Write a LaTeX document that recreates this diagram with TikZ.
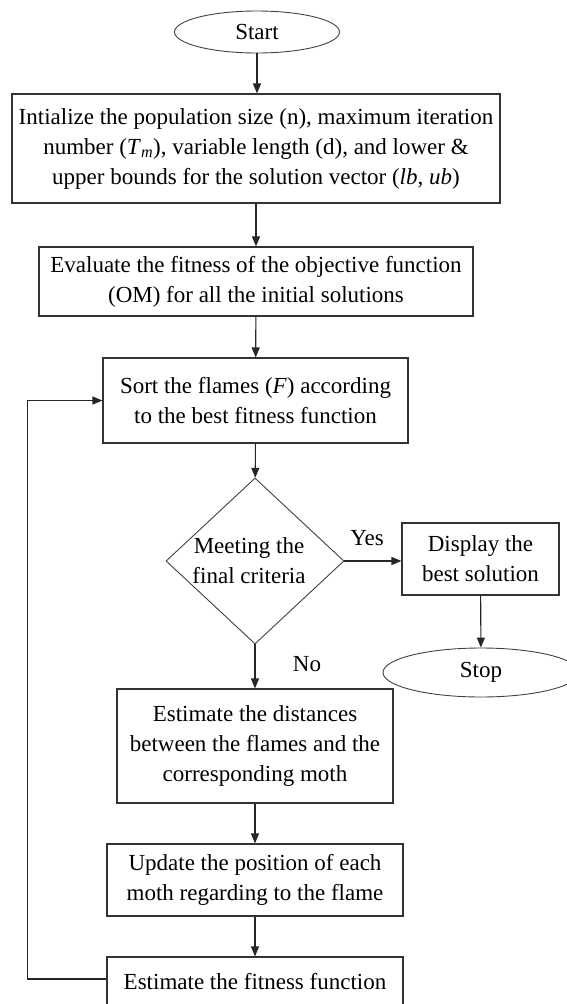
\documentclass[tikz,border=0pt]{standalone}
\usepackage{fontspec}
\setmainfont{Liberation Serif}
\usetikzlibrary{shapes.geometric,arrows.meta}
\begin{document}
\begin{tikzpicture}[x=1pt,y=-1pt,
  txt/.style={font=\fontsize{23}{30}\selectfont},
  box/.style={txt, draw=black!80, line width=1.1pt, align=center, inner sep=0pt},
  term/.style={txt, draw=black!75, line width=0.9pt, ellipse, inner sep=0pt},
  decision/.style={draw=black!75, line width=0.9pt, diamond, inner sep=0pt},
  arr/.style={-{Triangle[length=10pt,width=8pt]}, line width=1.1pt, draw=black!85},
  lbl/.style={txt, inner sep=0pt}]
\useasboundingbox (0,0) rectangle (567,1004);
\clip (0,0) rectangle (567,1004);
\node[term, minimum width=165pt, minimum height=42pt] (start) at (257,32) {Start};
\node[box, minimum width=488pt, minimum height=109pt] (init) at (256,148.5)
  {Intialize the population size (n), maximum iteration\\
   number (\textit{T}\textsubscript{\textit{m}}), variable length (d), and lower \&\\
   upper bounds for the solution vector (\textit{lb}, \textit{ub})};
\node[box, minimum width=434pt, minimum height=69pt] (eval) at (256,281.5)
  {Evaluate the fitness of the objective function\\(OM) for all the initial solutions};
\node[box, minimum width=305pt, minimum height=85pt] (sort) at (255.5,400.5)
  {Sort the flames (\textit{F}) according\\to the best fitness function};
\node[decision, minimum width=178pt, minimum height=166pt,
  label={[lbl, align=center, xshift=-6pt]center:Meeting the\\final criteria}] (dec) at (255,561) {};
\node[lbl] (yes) at (367,538) {Yes};
\node[lbl] (no) at (307,664) {No};
\node[box, minimum width=157pt, minimum height=72pt] (disp) at (480.5,559) {Display the\\best solution};
\node[term, minimum width=196pt, minimum height=49pt] (stop) at (481,672.5) {Stop};
\node[box, minimum width=276pt, minimum height=114pt] (est) at (255,746)
  {Estimate the distances\\between the flames and the\\corresponding moth};
\node[box, minimum width=296pt, minimum height=72pt] (upd) at (255,880)
  {Update the position of each\\moth regarding to the flame};
\node[box, minimum width=296pt, minimum height=50pt] (fit) at (255,982)
  {Estimate the fitness function};
\draw[arr] (start.south) -- (start.south |- init.north);
\draw[arr] (init) -- (eval);
\draw[arr] (eval) -- (sort);
\draw[arr] (sort) -- (dec);
\draw[arr] (dec.east) -- (dec.east -| disp.west);
\draw[arr] (disp) -- (stop);
\draw[arr] (dec) -- (est);
\draw[arr] (est) -- (upd);
\draw[arr] (upd) -- (fit);
\draw[arr] ([yshift=3pt]fit.west) -- ++(-79,0) |- (sort.west);
\end{tikzpicture}
\end{document}
